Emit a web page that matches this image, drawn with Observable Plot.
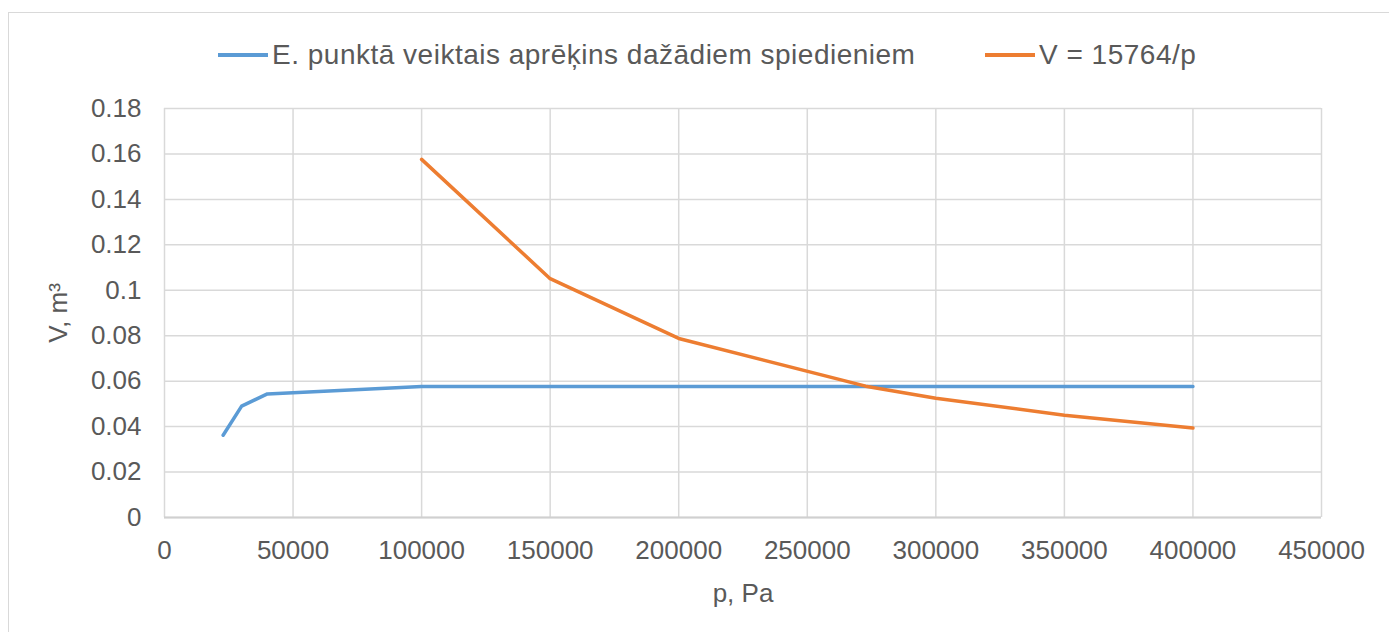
<!DOCTYPE html>
<html>
<head>
<meta charset="utf-8">
<script src="https://cdn.jsdelivr.net/npm/d3@7"></script>
<script src="https://cdn.jsdelivr.net/npm/@observablehq/plot@0.6"></script>
<style>
  html, body { margin: 0; padding: 0; background: #fff; }
  #wrap { position: relative; width: 1389px; height: 632px; overflow: hidden; font-family: "Liberation Sans", Arial, sans-serif; }
  #frame { position: absolute; left: 8px; top: 12px; width: 1400px; height: 640px; border: 1.5px solid #d9d9d9; box-sizing: border-box; }
  #chart { position: absolute; left: 0; top: 0; }
  .leg { position: absolute; top: 38px; display: flex; align-items: center; font-size: 28px; letter-spacing: 0.5px; color: #595959; white-space: nowrap; line-height: 34px; }
  .sw { display: inline-block; width: 50px; height: 3.5px; margin-right: 4px; }
</style>
</head>
<body>
<div id="wrap">
  <div id="frame"></div>
  <div id="chart"></div>
  <div class="leg" id="leg1" style="left:218px;"><span class="sw" style="background:#5b9bd5"></span><span id="lab1"></span></div>
  <div class="leg" id="leg2" style="left:985px;"><span class="sw" style="background:#ed7d31"></span><span id="lab2"></span></div>
</div>
<script>
// ---- data ----
const seriesNames = ["E. punktā veiktais aprēķins dažādiem spiedieniem", "V = 15764/p"];
const bluePressure = [22800, 30000, 40000, 100000, 150000, 200000, 250000, 300000, 350000, 400000];
const blueVolume   = [0.0362, 0.0490, 0.0544, 0.0577, 0.0577, 0.0577, 0.0577, 0.0577, 0.0577, 0.0577];
const orangePressure = [100000, 150000, 200000, 272700, 300000, 350000, 400000];
const orangeVolume   = [0.1576, 0.1051, 0.0788, 0.0578, 0.0525, 0.0450, 0.0394];
const xTicks = [0, 50000, 100000, 150000, 200000, 250000, 300000, 350000, 400000, 450000];
const yTicks = [0, 0.02, 0.04, 0.06, 0.08, 0.1, 0.12, 0.14, 0.16, 0.18];
const xTitle = "p, Pa";
const yTitle = "V, m³";
const colors = ["#5b9bd5", "#ed7d31"];

document.getElementById("lab1").textContent = seriesNames[0];
document.getElementById("lab2").textContent = seriesNames[1];

const blue = bluePressure.map((p, i) => ({p, v: blueVolume[i]}));
const orange = orangePressure.map((p, i) => ({p, v: orangeVolume[i]}));

const chart = Plot.plot({
  width: 1389,
  height: 632,
  marginLeft: 164,
  marginRight: 68,
  marginTop: 108,
  marginBottom: 115,
  style: { fontFamily: "'Liberation Sans', Arial, sans-serif", fontSize: "26px", color: "#595959", background: "transparent" },
  x: { domain: [0, 450000] },
  y: { domain: [0, 0.18] },
  marks: [
    Plot.gridX(xTicks, { stroke: "#d9d9d9", strokeOpacity: 1, strokeWidth: 1.5 }),
    Plot.gridY(yTicks, { stroke: "#d9d9d9", strokeOpacity: 1, strokeWidth: 1.5 }),
    Plot.ruleY([0], { stroke: "#d0d0d0", strokeWidth: 2 }),
    Plot.axisX({ ticks: xTicks, tickFormat: d => String(d), tickSize: 0, tickPadding: 23, fontSize: 26,
      label: xTitle, labelAnchor: "center", labelOffset: 84, labelArrow: "none" }),
    Plot.axisY({ ticks: yTicks, tickFormat: d => String(d), tickSize: 0, tickPadding: 23, fontSize: 26,
      label: yTitle, labelAnchor: "center", labelOffset: 116, labelArrow: "none" }),
    Plot.line(blue, { x: "p", y: "v", stroke: colors[0], strokeWidth: 3.5, strokeLinejoin: "round" }),
    Plot.line(orange, { x: "p", y: "v", stroke: colors[1], strokeWidth: 3.5, strokeLinejoin: "round" })
  ]
});
document.getElementById("chart").appendChild(chart);
</script>
</body>
</html>
